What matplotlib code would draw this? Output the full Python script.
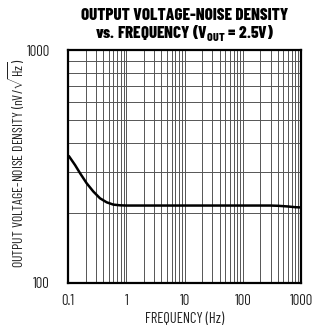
import matplotlib
matplotlib.use("Agg")
import matplotlib.pyplot as plt
from matplotlib.ticker import FixedLocator, NullFormatter, FixedFormatter

LABEL_FONT = "Barlow Condensed"
TITLE_FONT = "Barlow Condensed"

plt.rcParams["font.family"] = [LABEL_FONT, "DejaVu Sans"]
plt.rcParams["mathtext.fontset"] = "custom"
plt.rcParams["mathtext.rm"] = LABEL_FONT
plt.rcParams["mathtext.bf"] = TITLE_FONT + ":heavy"

# Noise density curve (frequency in Hz, density in nV/sqrt(Hz))
freq = [0.1, 0.104, 0.132, 0.161, 0.209, 0.272, 0.354, 0.461, 0.6, 0.78, 1.0,
        3.0, 10, 30, 100, 200, 300, 400, 600, 800, 1000]
noise = [352, 350, 321, 296, 268, 247, 231, 222, 217, 215.5, 215,
         215, 215, 215, 215, 215, 215, 214.5, 213, 211.5, 211]

x_ticks = [0.1, 1, 10, 100, 1000]
x_labels = ["0.1", "1", "10", "100", "1000"]
y_ticks = [100, 1000]
y_labels = ["100", "1000"]

W, H = 328, 331
fig = plt.figure(figsize=(W / 100, H / 100), dpi=100)
ax = fig.add_axes([68 / W, 1 - 283 / H, 233 / W, 233 / H])

ax.plot(freq, noise, color="black", lw=1.8, solid_capstyle="round")
ax.set_xscale("log")
ax.set_yscale("log")
ax.set_xlim(0.1, 1000)
ax.set_ylim(100, 1000)

ax.xaxis.set_major_locator(FixedLocator(x_ticks))
ax.xaxis.set_major_formatter(FixedFormatter(x_labels))
ax.xaxis.set_minor_locator(FixedLocator(
    [m * 10.0 ** e for e in range(-1, 3) for m in range(2, 10)]))
ax.xaxis.set_minor_formatter(NullFormatter())
ax.yaxis.set_major_locator(FixedLocator(y_ticks))
ax.yaxis.set_major_formatter(FixedFormatter(y_labels))
ax.yaxis.set_minor_locator(FixedLocator([m * 100 for m in range(2, 10)]))
ax.yaxis.set_minor_formatter(NullFormatter())

ax.grid(True, which="both", color="#555555", lw=0.7)
ax.set_axisbelow(True)
ax.tick_params(which="both", length=0, labelsize=10.5, pad=8,
               labelcolor="#222222")
ax.tick_params(axis="y", pad=13)
for s in ax.spines.values():
    s.set_linewidth(1.6)

ax.set_xlabel("FREQUENCY (Hz)", fontsize=10.5, labelpad=3, color="#222222")

# Vertical axis title, sized to span the plot height
ylab = fig.text(17 / W, 1 - 163 / H,
                r"OUTPUT VOLTAGE-NOISE DENSITY (nV/$\sqrt{\mathrm{Hz}}$)",
                rotation=90, ha="center", va="center", fontsize=10,
                color="#222222")
renderer = fig.canvas.get_renderer()
span = ylab.get_window_extent(renderer).height
ylab.set_fontsize(10 * 210 / span)

fig.text(184.5 / W, 1 - 15 / H, "OUTPUT VOLTAGE-NOISE DENSITY",
         ha="center", va="center", fontsize=12.2, fontweight="heavy",
         family=TITLE_FONT)
fig.text(184.5 / W, 1 - 33 / H,
         r"vs. FREQUENCY (V$_{\mathbf{OUT}}$ = 2.5V)",
         ha="center", va="center", fontsize=12.2, fontweight="heavy",
         family=TITLE_FONT)

fig.savefig("out.png", dpi=100)
